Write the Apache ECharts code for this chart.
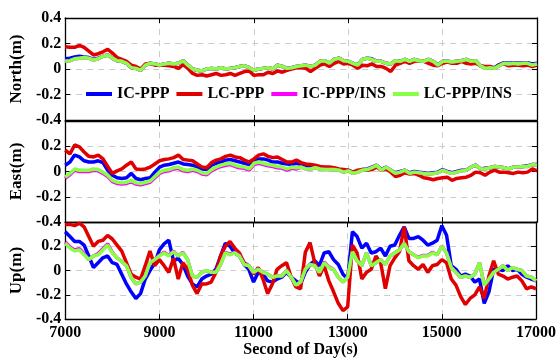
<!DOCTYPE html>
<html>
<head>
<meta charset="utf-8">
<script src="https://cdn.jsdelivr.net/npm/echarts@6/dist/echarts.min.js"></script>
<style>
  html, body { margin: 0; padding: 0; background: #fff; }
  #chart { width: 559px; height: 359px; }
</style>
</head>
<body>
<div id="chart"></div>
<script>
// sample times (second of day), one every 100 s
const seconds = [
  7000, 7100, 7200, 7300, 7400, 7500, 7600, 7700, 7800, 7900,
  8000, 8100, 8200, 8300, 8400, 8500, 8600, 8700, 8800, 8900,
  9000, 9100, 9200, 9300, 9400, 9500, 9600, 9700, 9800, 9900,
  10000, 10100, 10200, 10300, 10400, 10500, 10600, 10700, 10800, 10900,
  11000, 11100, 11200, 11300, 11400, 11500, 11600, 11700, 11800, 11900,
  12000, 12100, 12200, 12300, 12400, 12500, 12600, 12700, 12800, 12900,
  13000, 13100, 13200, 13300, 13400, 13500, 13600, 13700, 13800, 13900,
  14000, 14100, 14200, 14300, 14400, 14500, 14600, 14700, 14800, 14900,
  15000, 15100, 15200, 15300, 15400, 15500, 15600, 15700, 15800, 15900,
  16000, 16100, 16200, 16300, 16400, 16500, 16600, 16700, 16800, 16900,
  17000
]
const seriesNames = ['IC-PPP', 'LC-PPP', 'IC-PPP/INS', 'LC-PPP/INS']
const panelNames = ['North(m)', 'East(m)', 'Up(m)']
const xTicks = [7000, 9000, 11000, 13000, 15000, 17000]
const yTicks = [-0.4, -0.2, 0, 0.2, 0.4]

// North
const northIC = [
  0.08, 0.085, 0.095, 0.1, 0.095, 0.09, 0.075, 0.085, 0.1, 0.11,
  0.085, 0.065, 0.06, 0.045, 0.01, 0.005, -0.01, 0.03, 0.045, 0.04,
  0.03, 0.04, 0.045, 0.04, 0.045, 0.065, 0.03, 0.0, -0.01, -0.015,
  0.0, 0.005, 0.0, 0.01, 0.0, 0.005, 0.01, 0.02, 0.025, 0.01,
  -0.01, 0.0, 0.005, 0.01, 0.0, 0.03, 0.02, 0.005, 0.01, 0.02,
  0.025, 0.03, 0.02, 0.03, 0.06, 0.065, 0.045, 0.075, 0.085, 0.065,
  0.06, 0.045, 0.03, 0.075, 0.085, 0.08, 0.06, 0.06, 0.045, 0.04,
  0.065, 0.06, 0.075, 0.06, 0.075, 0.065, 0.06, 0.075, 0.06, 0.03,
  0.06, 0.06, 0.055, 0.06, 0.065, 0.075, 0.06, 0.065, 0.025, 0.01,
  0.015, 0.01, 0.035, 0.05, 0.045, 0.05, 0.045, 0.05, 0.05, 0.04,
  0.045
]
const northLC = [
  0.175, 0.17, 0.17, 0.185, 0.17, 0.14, 0.11, 0.12, 0.135, 0.155,
  0.125, 0.09, 0.075, 0.06, 0.03, 0.02, 0.0, 0.04, 0.045, 0.03,
  0.03, 0.03, 0.025, 0.02, 0.005, 0.035, 0.005, -0.035, -0.05, -0.045,
  -0.055, -0.045, -0.035, -0.05, -0.045, -0.035, -0.05, -0.035, -0.02, -0.015,
  -0.05, -0.045, -0.045, -0.025, -0.035, -0.015, -0.025, -0.01, 0.0, 0.01,
  0.01, 0.005, -0.02, 0.005, 0.03, 0.04, 0.02, 0.045, 0.06, 0.04,
  0.045, 0.03, 0.005, 0.03, 0.025, 0.04, 0.02, 0.02, 0.005, -0.02,
  0.03, 0.045, 0.06, 0.045, 0.06, 0.065, 0.06, 0.045, 0.03, 0.025,
  0.045, 0.055, 0.045, 0.045, 0.06, 0.045, 0.04, 0.045, 0.025, 0.02,
  0.02, 0.005, 0.03, 0.04, 0.025, 0.03, 0.03, 0.025, 0.03, 0.02,
  0.03
]
const northICINS = [
  0.06, 0.065, 0.08, 0.085, 0.09, 0.085, 0.07, 0.08, 0.1, 0.11,
  0.085, 0.065, 0.06, 0.045, 0.01, 0.005, -0.01, 0.03, 0.045, 0.04,
  0.03, 0.04, 0.045, 0.04, 0.045, 0.065, 0.03, 0.0, -0.01, -0.015,
  0.0, 0.005, 0.0, 0.01, 0.0, 0.005, 0.01, 0.02, 0.025, 0.01,
  -0.01, 0.0, 0.005, 0.01, 0.0, 0.03, 0.02, 0.005, 0.01, 0.02,
  0.025, 0.03, 0.02, 0.03, 0.06, 0.065, 0.045, 0.075, 0.085, 0.065,
  0.06, 0.045, 0.03, 0.075, 0.085, 0.075, 0.06, 0.06, 0.045, 0.04,
  0.065, 0.06, 0.075, 0.06, 0.075, 0.065, 0.06, 0.075, 0.06, 0.03,
  0.06, 0.06, 0.055, 0.06, 0.065, 0.075, 0.06, 0.065, 0.025, 0.005,
  0.01, 0.005, 0.025, 0.045, 0.04, 0.045, 0.04, 0.045, 0.045, 0.03,
  0.04
]
const northLCINS = [
  0.06, 0.065, 0.08, 0.085, 0.09, 0.085, 0.07, 0.08, 0.1, 0.11,
  0.085, 0.065, 0.06, 0.045, 0.01, 0.005, -0.01, 0.03, 0.045, 0.04,
  0.03, 0.04, 0.045, 0.04, 0.045, 0.065, 0.03, 0.0, -0.01, -0.015,
  0.0, 0.005, 0.0, 0.01, 0.0, 0.005, 0.01, 0.02, 0.025, 0.01,
  -0.01, 0.0, 0.005, 0.01, 0.0, 0.03, 0.02, 0.005, 0.01, 0.02,
  0.025, 0.03, 0.02, 0.03, 0.06, 0.065, 0.045, 0.075, 0.085, 0.065,
  0.06, 0.045, 0.03, 0.075, 0.085, 0.075, 0.06, 0.06, 0.045, 0.04,
  0.065, 0.06, 0.075, 0.06, 0.075, 0.065, 0.06, 0.075, 0.06, 0.03,
  0.06, 0.06, 0.055, 0.06, 0.065, 0.075, 0.06, 0.065, 0.025, 0.005,
  0.01, 0.005, 0.025, 0.045, 0.04, 0.045, 0.04, 0.045, 0.045, 0.03,
  0.04
]

// East
const eastIC = [
  0.05, 0.075, 0.13, 0.115, 0.085, 0.075, 0.075, 0.085, 0.07, 0.01,
  -0.03, -0.05, -0.055, -0.05, -0.015, -0.055, -0.065, -0.055, -0.05, -0.005,
  0.035, 0.05, 0.055, 0.065, 0.075, 0.06, 0.055, 0.05, 0.035, 0.02,
  0.015, 0.05, 0.065, 0.075, 0.09, 0.095, 0.085, 0.075, 0.065, 0.055,
  0.085, 0.1, 0.1, 0.09, 0.075, 0.075, 0.065, 0.06, 0.055, 0.065,
  0.055, 0.04, 0.03, 0.035, 0.03, 0.025, 0.02, 0.02, 0.015, 0.0,
  0.01, -0.01, 0.0, 0.015, 0.02, 0.035, 0.05, 0.015, 0.035, 0.01,
  -0.01, 0.0, 0.01, -0.01, 0.0, -0.005, -0.01, -0.015, -0.01, -0.005,
  0.015, 0.0, -0.01, 0.0, 0.01, 0.01, 0.035, 0.05, 0.02, 0.025,
  0.03, 0.04, 0.035, 0.03, 0.02, 0.035, 0.035, 0.04, 0.045, 0.055,
  0.055
]
const eastLC = [
  0.17, 0.14, 0.21, 0.195, 0.155, 0.12, 0.115, 0.13, 0.1, 0.04,
  -0.015, 0.005, 0.02, 0.05, 0.075, 0.02, 0.015, 0.02, 0.035, 0.06,
  0.085, 0.095, 0.1, 0.11, 0.13, 0.095, 0.09, 0.085, 0.06, 0.035,
  0.03, 0.07, 0.09, 0.1, 0.12, 0.13, 0.115, 0.11, 0.09, 0.075,
  0.1, 0.13, 0.14, 0.12, 0.11, 0.115, 0.095, 0.075, 0.075, 0.09,
  0.07, 0.06, 0.055, 0.05, 0.04, 0.035, 0.035, 0.03, 0.02, 0.015,
  0.01, -0.005, 0.01, 0.015, 0.01, 0.015, 0.035, 0.01, 0.02, -0.005,
  -0.04, -0.03, -0.01, -0.02, -0.015, -0.03, -0.05, -0.055, -0.065, -0.055,
  -0.05, -0.045, -0.07, -0.055, -0.05, -0.045, -0.03, -0.005, -0.01, -0.03,
  -0.005, 0.01, -0.005, -0.005, -0.01, -0.015, -0.005, -0.01, -0.005, 0.02,
  0.005
]
const eastICINS = [
  -0.055, -0.025, 0.01, 0.0, 0.0, 0.0, 0.01, 0.005, -0.015, -0.04,
  -0.08, -0.095, -0.1, -0.095, -0.08, -0.1, -0.105, -0.095, -0.085, -0.05,
  -0.015, 0.0, 0.005, 0.02, 0.025, 0.005, 0.0, 0.01, 0.0, -0.02,
  -0.025, 0.005, 0.025, 0.04, 0.05, 0.055, 0.04, 0.03, 0.025, 0.01,
  0.055, 0.065, 0.055, 0.045, 0.04, 0.03, 0.025, 0.01, 0.025, 0.02,
  0.035, 0.02, 0.02, 0.03, 0.02, 0.015, 0.015, 0.015, 0.01, -0.005,
  0.005, -0.015, -0.005, 0.01, 0.015, 0.03, 0.05, 0.01, 0.035, 0.01,
  -0.015, -0.005, 0.01, -0.015, -0.005, -0.01, -0.015, -0.02, -0.015, -0.01,
  0.01, -0.005, -0.015, -0.005, 0.005, 0.01, 0.035, 0.05, 0.02, 0.02,
  0.03, 0.04, 0.035, 0.03, 0.02, 0.035, 0.035, 0.04, 0.04, 0.055,
  0.05
]
const eastLCINS = [
  -0.045, -0.015, 0.02, 0.01, 0.01, 0.01, 0.02, 0.015, -0.005, -0.03,
  -0.07, -0.085, -0.09, -0.085, -0.07, -0.09, -0.095, -0.085, -0.075, -0.04,
  -0.005, 0.01, 0.015, 0.03, 0.035, 0.015, 0.01, 0.02, 0.01, -0.01,
  -0.015, 0.015, 0.035, 0.05, 0.06, 0.065, 0.05, 0.04, 0.035, 0.02,
  0.065, 0.075, 0.065, 0.055, 0.05, 0.04, 0.035, 0.02, 0.035, 0.03,
  0.035, 0.02, 0.02, 0.03, 0.02, 0.015, 0.015, 0.015, 0.01, -0.005,
  0.005, -0.015, -0.005, 0.01, 0.015, 0.03, 0.05, 0.01, 0.035, 0.01,
  -0.015, -0.005, 0.01, -0.015, -0.005, -0.01, -0.015, -0.02, -0.015, -0.01,
  0.01, -0.005, -0.015, -0.005, 0.005, 0.01, 0.035, 0.05, 0.02, 0.02,
  0.03, 0.04, 0.035, 0.03, 0.02, 0.035, 0.035, 0.04, 0.04, 0.055,
  0.05
]

// Up
const upIC = [
  0.32, 0.28, 0.24, 0.24, 0.21, 0.12, 0.025, 0.065, 0.105, 0.12,
  0.065, 0.05, -0.03, -0.11, -0.175, -0.23, -0.19, -0.07, 0.0, 0.06,
  0.17, 0.22, 0.25, 0.08, 0.1, 0.05, -0.045, -0.11, -0.135, -0.07,
  -0.045, -0.03, 0.01, 0.12, 0.225, 0.2, 0.145, 0.12, 0.05, 0.01,
  -0.095, -0.015, -0.03, -0.085, -0.095, -0.07, -0.055, -0.015, -0.055, -0.085,
  -0.11, -0.015, 0.05, 0.08, 0.04, 0.145, 0.155, 0.09, 0.05, -0.03,
  -0.07, 0.32, 0.28, 0.185, 0.225, 0.145, 0.155, 0.185, 0.12, 0.2,
  0.21, 0.29, 0.36, 0.265, 0.265, 0.28, 0.25, 0.21, 0.225, 0.25,
  0.37, 0.29, 0.04, 0.01, -0.045, -0.03, -0.045, -0.095, -0.07, -0.27,
  -0.175, 0.01, 0.01, 0.0, 0.04, 0.0, 0.01, -0.03, -0.055, -0.07,
  -0.085
]
const upLC = [
  0.38, 0.38, 0.37, 0.39, 0.36, 0.28, 0.2, 0.24, 0.25, 0.29,
  0.26, 0.21, 0.16, 0.065, -0.03, -0.055, -0.07, 0.04, 0.16, 0.04,
  0.09, 0.04, -0.015, 0.1, -0.07, 0.065, 0.01, -0.12, -0.19, -0.11,
  -0.11, -0.095, -0.015, 0.12, 0.2, 0.24, 0.185, 0.145, 0.065, 0.04,
  -0.03, 0.025, -0.07, -0.19, -0.11, 0.01, 0.04, 0.065, -0.055, -0.135,
  -0.15, 0.15, 0.23, 0.065, -0.045, 0.04, -0.085, -0.175, -0.27, -0.33,
  -0.3, 0.21, 0.145, -0.07, -0.015, 0.01, 0.12, 0.065, -0.15, 0.04,
  0.105, 0.155, 0.36, 0.08, 0.04, 0.01, 0.05, -0.015, 0.04, 0.05,
  0.09, 0.065, -0.07, -0.12, -0.215, -0.28, -0.23, -0.2, -0.135, -0.23,
  -0.045, 0.08, -0.03, -0.045, -0.07, -0.055, -0.045, -0.085, -0.15, -0.135,
  -0.15
]
const upICINS = [
  0.235, 0.195, 0.17, 0.18, 0.14, 0.09, 0.12, 0.14, 0.18, 0.22,
  0.15, 0.105, 0.075, 0.04, -0.055, -0.11, -0.095, -0.045, 0.065, 0.09,
  0.125, 0.15, 0.125, 0.16, 0.12, 0.15, 0.09, -0.045, -0.055, -0.015,
  0.0, -0.015, -0.015, 0.05, 0.15, 0.135, 0.15, 0.125, 0.05, 0.04,
  -0.015, 0.01, -0.015, -0.03, -0.055, -0.045, -0.045, 0.0, -0.055, -0.12,
  -0.095, 0.01, 0.05, 0.04, -0.015, 0.07, 0.03, 0.01, -0.055, -0.095,
  -0.055, 0.155, 0.08, 0.04, 0.145, 0.04, 0.065, 0.09, 0.05, 0.12,
  0.145, 0.17, 0.225, 0.155, 0.13, 0.11, 0.125, 0.125, 0.15, 0.13,
  0.2, 0.145, 0.025, -0.015, -0.055, -0.045, -0.055, -0.03, 0.065, -0.12,
  -0.07, -0.015, 0.01, 0.04, 0.0, 0.025, 0.01, 0.0, -0.045, -0.055,
  -0.085
]
const upLCINS = [
  0.225, 0.185, 0.16, 0.17, 0.13, 0.09, 0.12, 0.13, 0.17, 0.21,
  0.145, 0.105, 0.075, 0.04, -0.055, -0.11, -0.095, -0.045, 0.065, 0.09,
  0.12, 0.145, 0.12, 0.155, 0.12, 0.145, 0.09, -0.045, -0.055, -0.015,
  0.0, -0.015, -0.015, 0.05, 0.145, 0.13, 0.145, 0.12, 0.05, 0.04,
  -0.015, 0.01, -0.015, -0.03, -0.055, -0.045, -0.045, 0.0, -0.055, -0.12,
  -0.095, 0.01, 0.05, 0.04, -0.015, 0.065, 0.025, 0.01, -0.055, -0.095,
  -0.055, 0.155, 0.08, 0.04, 0.145, 0.04, 0.065, 0.09, 0.05, 0.12,
  0.145, 0.17, 0.225, 0.155, 0.13, 0.105, 0.12, 0.12, 0.145, 0.13,
  0.2, 0.145, 0.025, -0.015, -0.055, -0.045, -0.055, -0.03, 0.065, -0.12,
  -0.07, -0.015, 0.01, 0.04, 0.0, 0.025, 0.01, 0.0, -0.045, -0.055,
  -0.085
]

const panels = [
  [northIC, northLC, northICINS, northLCINS],
  [eastIC, eastLC, eastICINS, eastLCINS],
  [upIC, upLC, upICINS, upLCINS],
]
const colors = ['#0000ff', '#e00000', '#ff00ff', '#88ff44']

const font = { fontFamily: 'Liberation Serif', fontWeight: 'bold', fontSize: 16, color: '#000' }
const dashed = { show: true, lineStyle: { color: '#cccccc', type: [6, 5], width: 1 } }
const frame = { show: true, onZero: false, lineStyle: { color: '#000', width: 1.3 } }
const tickIn = { show: true, inside: true, length: 5, lineStyle: { color: '#000', width: 1 } }

const chart = echarts.init(document.getElementById('chart'))

const grid = [
  { left: 63, right: 22, top: 18, height: 102 },
  { left: 63, right: 22, top: 121, height: 101 },
  { left: 63, right: 22, top: 222, height: 99 },
]
const xAxis = []
const yAxis = []
const series = []

panels.forEach((lines, i) => {
  const last = i === panels.length - 1
  xAxis.push({
    gridIndex: i, type: 'value', position: 'bottom',
    min: xTicks[0], max: xTicks[xTicks.length - 1], interval: 2000,
    axisLine: frame, axisTick: tickIn, splitLine: dashed,
    axisLabel: Object.assign({ show: last, margin: 6, formatter: v => String(v) }, font),
    name: last ? 'Second of Day(s)' : '',
    nameLocation: 'middle', nameGap: 20,
    nameTextStyle: font,
  })
  xAxis.push({
    gridIndex: i, type: 'value', position: 'top',
    min: xTicks[0], max: xTicks[xTicks.length - 1], interval: 2000,
    axisLine: frame, axisTick: tickIn, axisLabel: { show: false }, splitLine: { show: false },
  })
  yAxis.push({
    gridIndex: i, type: 'value', position: 'left',
    min: yTicks[0], max: yTicks[yTicks.length - 1], interval: 0.2,
    axisLine: frame, axisTick: tickIn, splitLine: dashed,
    axisLabel: Object.assign({
      margin: 4,
      // the top label of a lower panel sits under the -0.4 of the panel above
      formatter: v => (i > 0 && Math.abs(v - 0.4) < 1e-6) ? '' : String(Math.round(v * 10) / 10),
    }, font),
    name: panelNames[i], nameLocation: 'middle', nameGap: 30,
    nameTextStyle: Object.assign({}, font, { fontSize: 17 }),
  })
  yAxis.push({
    gridIndex: i, type: 'value', position: 'right',
    min: yTicks[0], max: yTicks[yTicks.length - 1], interval: 0.2,
    axisLine: frame, axisTick: tickIn, axisLabel: { show: false }, splitLine: { show: false },
  })
  lines.forEach((vals, j) => {
    series.push({
      name: seriesNames[j],
      type: 'line',
      xAxisIndex: i * 2,
      yAxisIndex: i * 2,
      showSymbol: false,
      symbol: 'none',
      lineStyle: { color: colors[j], width: 3.5 },
      itemStyle: { color: colors[j] },
      data: seconds.map((t, k) => [t, vals[k]]),
    })
  })
})

const option = {
  animation: false,
  backgroundColor: '#fff',
  grid: grid,
  legend: {
    data: seriesNames,
    left: 83,
    top: 84,
    icon: 'rect',
    itemWidth: 26,
    itemHeight: 4,
    itemGap: 7,
    padding: [2, 3],
    backgroundColor: '#fff',
    textStyle: font,
  },
  xAxis: xAxis,
  yAxis: yAxis,
  series: series,
}
chart.setOption(option)
</script>
</body>
</html>
